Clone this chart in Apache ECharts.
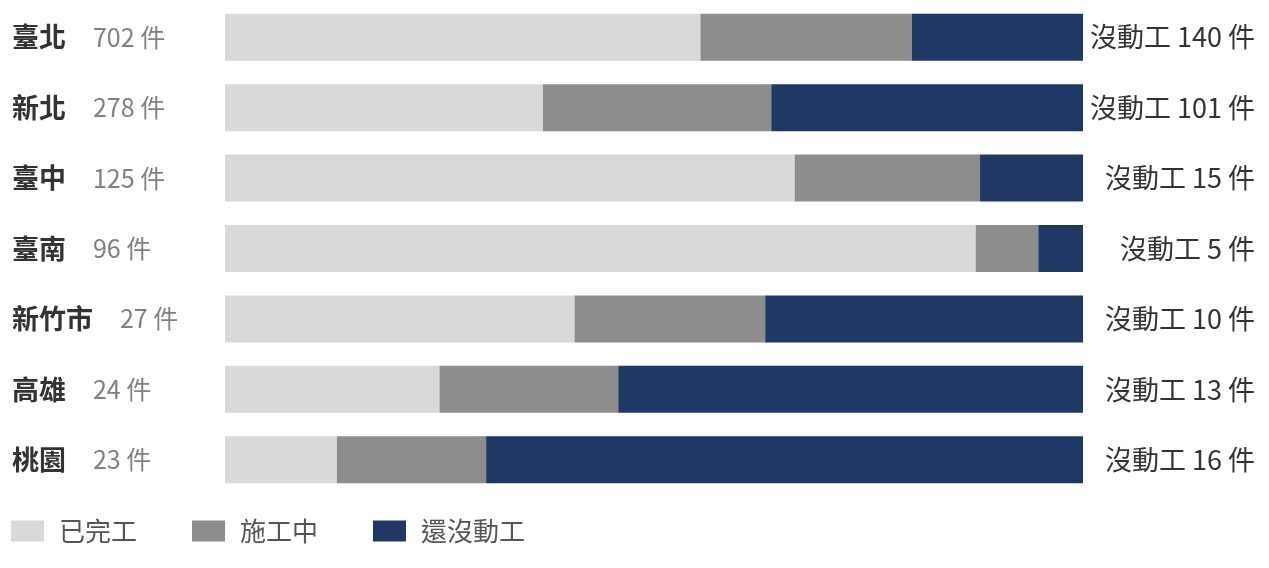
<!DOCTYPE html>
<html lang="zh-Hant">
<head>
    <meta charset="utf-8">
    <title></title>
    <script type="text/javascript" src="https://cdn.jsdelivr.net/npm/echarts@6/dist/echarts.min.js"></script>
    <style>
        html, body { margin: 0; padding: 0; background: #fff; }
    </style>
</head>
<body>
    <div id="box" style="width: 1269px; height: 568px;"></div>
    <script>
        // 各縣市資料（件數）
        var cities = ['臺北', '新北', '臺中', '臺南', '新竹市', '高雄', '桃園'];
        var totals = [702, 278, 125, 96, 27, 24, 23];
        var done = [389, 103, 83, 84, 11, 6, 3];
        var working = [173, 74, 27, 7, 6, 5, 4];
        var notStarted = [140, 101, 15, 5, 10, 13, 16];

        var seriesNames = ['已完工', '施工中', '還沒動工'];
        var colors = ['#d9d9d9', '#8d8d8d', '#203864'];

        // 換成百分比，堆疊到 100
        function toPct(arr) {
            return arr.map(function (v, i) { return v / totals[i] * 100; });
        }

        var fontCJK = '"Noto Sans CJK TC", "Noto Sans", sans-serif';
        var myChart = echarts.init(document.getElementById('box'));

        var option = {
            animation: false,
            textStyle: { fontFamily: fontCJK },
            grid: { left: 225, right: 186, top: 2, height: 493 },
            legend: {
                left: 11,
                top: 518,
                padding: 0,
                itemWidth: 33,
                itemHeight: 21,
                itemGap: 55,
                icon: 'rect',
                data: seriesNames,
                textStyle: { fontSize: 26, color: '#555', fontFamily: fontCJK, padding: [0, 0, 0, 10] }
            },
            xAxis: { type: 'value', min: 0, max: 100, show: false },
            yAxis: [
                {
                    type: 'category',
                    inverse: true,
                    data: cities,
                    axisLine: { show: false },
                    axisTick: { show: false },
                    axisLabel: {
                        align: 'left',
                        margin: 213,
                        formatter: function (v, i) {
                            return '{n|' + v + '}{c|' + totals[i] + ' 件}';
                        },
                        rich: {
                            n: { fontSize: 27, fontWeight: 'bold', color: '#333', fontFamily: fontCJK, padding: [0, 27, 0, 0] },
                            c: { fontSize: 25, color: '#808080', fontFamily: fontCJK }
                        }
                    }
                },
                {
                    type: 'category',
                    inverse: true,
                    position: 'right',
                    data: cities,
                    axisLine: { show: false },
                    axisTick: { show: false },
                    axisLabel: {
                        align: 'right',
                        margin: 172,
                        fontSize: 27,
                        color: '#333',
                        fontFamily: fontCJK,
                        formatter: function (v, i) {
                            return '沒動工 ' + notStarted[i] + ' 件';
                        }
                    }
                }
            ],
            series: [
                { name: seriesNames[0], type: 'bar', stack: 'all', barWidth: 47, data: toPct(done), itemStyle: { color: colors[0] } },
                { name: seriesNames[1], type: 'bar', stack: 'all', barWidth: 47, data: toPct(working), itemStyle: { color: colors[1] } },
                { name: seriesNames[2], type: 'bar', stack: 'all', barWidth: 47, data: toPct(notStarted), itemStyle: { color: colors[2] } }
            ]
        };
        myChart.setOption(option, true);
    </script>
</body>
</html>
